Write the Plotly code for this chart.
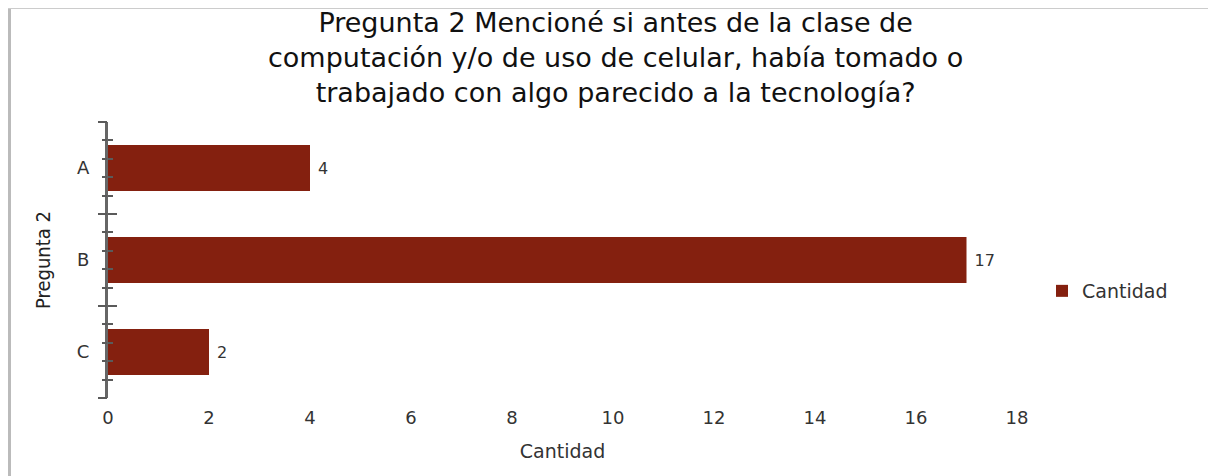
import plotly.graph_objects as go

# data
categorias = ["A", "B", "C"]
cantidad = [4, 17, 2]
posiciones = [0, 1, 2]
limites = [-0.5, 0.5, 1.5, 2.5]

# the page has an 8px body margin, so the figure is 8px smaller than the window
W, H = 1208, 468
ML, MR, MT, MB = 100, 199, 114, 78
PW, PH = W - ML - MR, H - MT - MB

fig = go.Figure()

fig.add_trace(go.Bar(
    x=cantidad,
    y=posiciones,
    orientation="h",
    name="Cantidad",
    marker=dict(color="#84200F", line=dict(width=0)),
    width=0.5,
    text=cantidad,
    texttemplate="\u00a0%{x}",
    textposition="outside",
    textfont=dict(size=16, color="#333333"),
    cliponaxis=False,
))

# empty traces so the overlay axes (ticks crossing the axis line) get drawn
fig.add_trace(go.Scatter(x=[None], y=[None], yaxis="y2", showlegend=False, hoverinfo="skip"))
fig.add_trace(go.Scatter(x=[None], y=[None], yaxis="y3", showlegend=False, hoverinfo="skip"))

font_fam = "DejaVu Sans, Verdana, sans-serif"
tick_col = "#5a5a5a"

fig.update_layout(
    width=W, height=H,
    margin=dict(l=ML, r=MR, t=MT, b=MB),
    paper_bgcolor="white",
    plot_bgcolor="white",
    font=dict(family=font_fam, color="#333333"),
    title=dict(
        text="Pregunta 2 Mencioné si antes de la clase de<br>computación y/o de uso de celular, había tomado o<br>trabajado con algo parecido a la tecnología?",
        x=0.503, xanchor="center", xref="container",
        y=1 - 24 / H, yanchor="middle", yref="container",
        font=dict(size=27, color="#111111", family=font_fam),
    ),
    showlegend=True,
    legend=dict(
        x=(1034 - ML) / PW, xanchor="left",
        y=1 - (283 - MT) / PH, yanchor="middle",
        font=dict(size=19, color="#333333"),
        bgcolor="rgba(0,0,0,0)",
        itemwidth=30,
    ),
    xaxis=dict(
        range=[0, 18],
        dtick=2,
        automargin=False,
        showgrid=False,
        zeroline=False,
        showline=False,
        ticks="",
        tickfont=dict(size=18, color="#333333"),
        ticklabelstandoff=7,
        title=dict(text="Cantidad", font=dict(size=19, color="#333333"), standoff=17),
    ),
    yaxis=dict(
        range=[2.5, -0.5],
        tickvals=posiciones,
        ticktext=categorias,
        automargin=False,
        showgrid=False,
        zeroline=False,
        showline=True,
        linecolor="#666666",
        linewidth=3,
        ticks="",
        tickfont=dict(size=18, color="#333333"),
        ticklabelstandoff=12,
        title=dict(text="Pregunta 2",
                   font=dict(size=20, color="#222222",
                             family="Liberation Sans Narrow, DejaVu Sans Condensed, Liberation Sans, sans-serif"),
                   standoff=21),
    ),
    yaxis2=dict(
        overlaying="y", anchor="x", side="left",
        range=[2.5, -0.5],
        tickvals=limites,
        automargin=False,
        showticklabels=False,
        showgrid=False, zeroline=False, showline=False,
        ticks="outside", ticklen=9, tickwidth=2, tickcolor=tick_col,
        minor=dict(dtick=0.2, tick0=-0.5, ticks="outside", ticklen=5, tickwidth=2,
                   tickcolor=tick_col, showgrid=False),
    ),
    yaxis3=dict(
        overlaying="y", anchor="x", side="left",
        range=[2.5, -0.5],
        tickvals=limites,
        automargin=False,
        showticklabels=False,
        showgrid=False, zeroline=False, showline=False,
        ticks="inside", ticklen=9, tickwidth=2, tickcolor=tick_col,
        minor=dict(dtick=0.2, tick0=-0.5, ticks="inside", ticklen=5, tickwidth=2,
                   tickcolor=tick_col, showgrid=False),
    ),
)

# grey frame on the left and top edges of the image
fig.add_shape(type="line", xref="paper", yref="paper",
              x0=(1.5 - ML) / PW, x1=(1.5 - ML) / PW,
              y0=-MB / PH, y1=1 + MT / PH,
              line=dict(color="#BBBBBB", width=3))
fig.add_shape(type="line", xref="paper", yref="paper",
              x0=(0 - ML) / PW, x1=(W - ML) / PW,
              y0=1 + (MT - 0.5) / PH, y1=1 + (MT - 0.5) / PH,
              line=dict(color="#CCCCCC", width=1))

fig.write_html("out.html")
